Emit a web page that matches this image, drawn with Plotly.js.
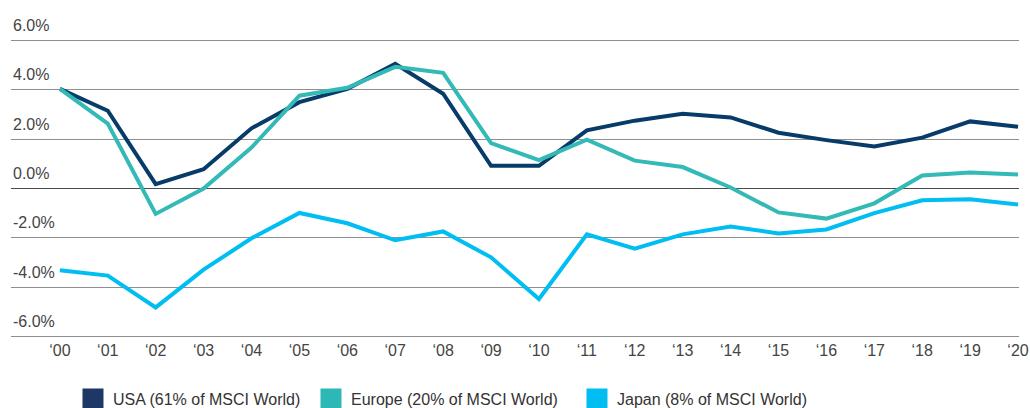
<!DOCTYPE html>
<html>
<head>
<meta charset="utf-8">
<script src="https://cdn.plot.ly/plotly-3.0.1.min.js"></script>
<style>html,body{margin:0;padding:0;background:#fff;}#chart{width:1030px;height:408px;}</style>
</head>
<body>
<div id="chart"></div>
<script>
var years = ['\u201800','\u201801','\u201802','\u201803','\u201804','\u201805','\u201806','\u201807','\u201808','\u201809','\u201810','\u201811','\u201812','\u201813','\u201814','\u201815','\u201816','\u201817','\u201818','\u201819','\u201820'];
var usa    = [4.04, 3.15, 0.18, 0.78, 2.44, 3.5, 4.04, 5.05, 3.84, 0.92, 0.92, 2.36, 2.75, 3.03, 2.88, 2.26, 1.96, 1.7, 2.06, 2.72, 2.5];
var europe = [4.04, 2.63, -1.03, 0.0, 1.66, 3.76, 4.08, 4.93, 4.69, 1.84, 1.15, 1.98, 1.13, 0.87, 0.04, -0.97, -1.22, -0.6, 0.53, 0.65, 0.57];
var japan  = [-3.31, -3.53, -4.82, -3.29, -2.02, -0.99, -1.41, -2.1, -1.74, -2.79, -4.48, -1.86, -2.44, -1.86, -1.54, -1.82, -1.66, -1.0, -0.48, -0.44, -0.65];
var names  = ['USA (61% of MSCI World)', 'Europe (20% of MSCI World)', 'Japan (8% of MSCI World)'];
var yTickVals = [-6, -4, -2, 0, 2, 4, 6];
var yTickText = ['-6.0%', '-4.0%', '-2.0%', '0.0%', '2.0%', '4.0%', '6.0%'];

var lineColors = ['#073B69', '#33B9B6', '#00BEF2'];
var swatchColors = ['#1D3867', '#2EB8B5', '#00BDF2'];
var series = [usa, europe, japan];
var legendIds = ['legend', 'legend2', 'legend3'];
var legendX = [0.0615, 0.2976, 0.5615];

var traces = [];
series.forEach(function(s, i) {
  traces.push({
    type: 'scatter', mode: 'lines', x: years, y: s, name: names[i],
    showlegend: false, hoverinfo: 'skip',
    line: {color: lineColors[i], width: 4}
  });
});
names.forEach(function(n, i) {
  traces.push({
    type: 'scatter', mode: 'markers', x: [null], y: [null], name: n,
    showlegend: true, legend: legendIds[i],
    marker: {symbol: 'square', size: 16, color: swatchColors[i], line: {color: swatchColors[i], width: 5}}
  });
});

var font = 'Liberation Sans, Arial, sans-serif';
var fs = 16;
var annotations = yTickVals.map(function(v, i) {
  return {
    xref: 'paper', yref: 'y', x: 0, y: v, xanchor: 'left', yanchor: 'middle',
    yshift: 15, text: yTickText[i], showarrow: false,
    font: {family: font, size: fs, color: '#444'}
  };
});

var layout = {
  width: 1030, height: 408,
  margin: {l: 11, r: 11, t: 37.5, b: 68.5, autoexpand: false},
  paper_bgcolor: '#fff', plot_bgcolor: '#fff',
  font: {family: font, size: fs, color: '#444'},
  showlegend: true,
  annotations: annotations,
  xaxis: {
    type: 'category', categoryorder: 'array', categoryarray: years,
    range: [-1.02, 20.02], showgrid: false, zeroline: false, showline: false,
    ticks: '', ticklen: 2, tickfont: {family: font, size: fs, color: '#444'}, fixedrange: true
  },
  yaxis: {
    range: [-6.1, 6.1], tickvals: yTickVals, showticklabels: false,
    showgrid: true, gridcolor: '#8f8f8f', gridwidth: 1,
    zeroline: true, zerolinecolor: '#4a4a4a', zerolinewidth: 1,
    showline: false, ticks: '', fixedrange: true
  }
};
legendIds.forEach(function(id, i) {
  layout[id] = {
    orientation: 'h', x: legendX[i], xanchor: 'left', y: -0.2, yanchor: 'middle',
    font: {family: font, size: fs, color: '#333'}, bgcolor: 'rgba(0,0,0,0)'
  };
});

Plotly.newPlot('chart', traces, layout, {displayModeBar: false, staticPlot: true});
</script>
</body>
</html>
